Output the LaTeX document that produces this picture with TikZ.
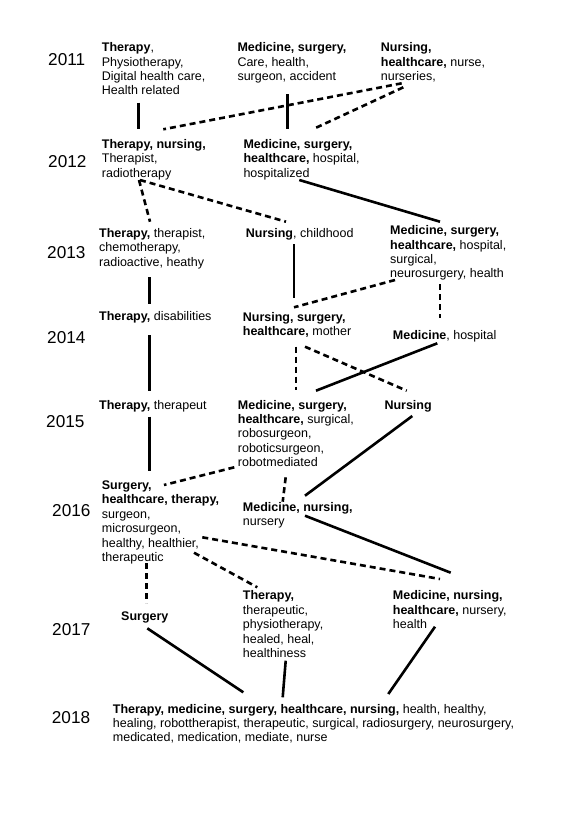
\documentclass[tikz,border=0pt]{standalone}
\usepackage{fontspec}
\setmainfont{Liberation Sans}
\usetikzlibrary{calc}
\begin{document}
\begin{tikzpicture}[x=1pt,y=-1pt,
  term/.style={anchor=north west,inner sep=0pt,align=left,font=\fontsize{12.5}{14.35}\selectfont},
  yr/.style={anchor=north west,inner sep=0pt,font=\fontsize{17.2}{20}\selectfont},
  firm/.style={line width=2.6pt},
  loose/.style={line width=2.6pt,dash pattern=on 6pt off 4pt}]
\useasboundingbox (0,0) rectangle (582,823);

\node[yr] (Y11) at (48,53.3) {2011};
\node[yr] (Y12) at (48,155) {2012};
\node[yr] (Y13) at (47,246) {2013};
\node[yr] (Y14) at (47,331.7) {2014};
\node[yr] (Y15) at (46,415) {2015};
\node[yr] (Y16) at (52,504) {2016};
\node[yr] (Y17) at (52,623.3) {2017};
\node[yr] (Y18) at (51.7,711.7) {2018};

\node[term] (T11) at (101.7,42.5) {\textbf{Therapy}, \\ Physiotherapy, \\ Digital health care, \\ Health related};
\node[term] (M11) at (237.3,42.5) {\textbf{Medicine, surgery,} \\ Care, health, \\ surgeon, accident};
\node[term] (N11) at (380.7,42.5) {\textbf{Nursing,} \\ \textbf{healthcare,} nurse, \\ nurseries,};

\node[term] (T12) at (101.7,139.3) {\textbf{Therapy, nursing,} \\ Therapist, \\ radiotherapy};
\node[term] (M12) at (243.3,139.3) {\textbf{Medicine, surgery,} \\ \textbf{healthcare,} hospital, \\ hospitalized};

\node[term] (T13) at (99,228.3) {\textbf{Therapy,} therapist, \\ chemotherapy, \\ radioactive, heathy};
\node[term] (N13) at (245.7,228.3) {\textbf{Nursing}, childhood};
\node[term] (M13) at (390,225.5) {\textbf{Medicine, surgery,} \\ \textbf{healthcare,} hospital, \\ surgical, \\ neurosurgery, health};

\node[term] (T14) at (99,311.7) {\textbf{Therapy,} disabilities};
\node[term] (N14) at (242.7,312) {\textbf{Nursing, surgery,} \\ \textbf{healthcare,} mother};
\node[term] (M14) at (392.7,330.7) {\textbf{Medicine}, hospital};

\node[term] (T15) at (99,400) {\textbf{Therapy,} therapeut};
\node[term] (M15) at (237.7,400) {\textbf{Medicine, surgery,} \\ \textbf{healthcare,} surgical, \\ robosurgeon, \\ roboticsurgeon, \\ robotmediated};
\node[term] (N15) at (384.3,400) {\textbf{Nursing}};

\node[term] (S16) at (101.7,480.7) {\textbf{Surgery,} \\ \textbf{healthcare, therapy,} \\ surgeon, \\ microsurgeon, \\ healthy, healthier, \\ therapeutic};
\node[term] (M16) at (242.7,502.3) {\textbf{Medicine, nursing,} \\ nursery};

\node[term] (S17) at (121,611.3) {\textbf{Surgery}};
\node[term] (T17) at (242.7,590.7) {\textbf{Therapy,} \\ therapeutic, \\ physiotherapy, \\ healed, heal, \\ healthiness};
\node[term] (M17) at (392.7,590.7) {\textbf{Medicine, nursing,} \\ \textbf{healthcare,} nursery, \\ health};

\node[term] (A18) at (112.7,704) {\textbf{Therapy, medicine, surgery, healthcare, nursing,} health, healthy, \\ healing, robottherapist, therapeutic, surgical, radiosurgery, neurosurgery, \\ medicated, medication, mediate, nurse};

\draw[firm] ($(T11.north west)+(36.6,60.2)$) -- ($(T12.north west)+(36.6,-10)$);
\draw[firm] ($(M11.north west)+(50.4,51.5)$) -- ($(M12.north west)+(44.4,-10.3)$);
\draw[loose] ($(N11.north west)+(21,40.8)$) -- ($(T12.north west)+(61.6,-10)$);
\draw[loose] ($(N11.north west)+(22.6,44.8)$) -- ($(M12.north west)+(70,-10.3)$);

\draw[loose] ($(T12.north west)+(37.3,40.7)$) -- ($(T13.north west)+(51,-6.6)$);
\draw[loose] ($(T12.north west)+(38.3,40.7)$) -- ($(N13.north west)+(40.3,-6.6)$);
\draw[firm] ($(M12.north west)+(56,40.7)$) -- ($(M13.north west)+(50,-3.8)$);

\draw[firm] ($(T13.north west)+(50.3,48.7)$) -- ($(T14.north west)+(50.3,-7.7)$);
\draw[firm] ($(N13.north west)+(48.3,15.7)$) -- ($(N14.north west)+(51.3,-13.7)$);
\draw[loose] ($(M13.north west)+(5,54.5)$) -- ($(N14.north west)+(51.3,-4.7)$);
\draw[loose] ($(M13.north west)+(50,58.8)$) -- ($(M14.north west)+(47.3,-12.4)$);

\draw[firm] ($(T14.north west)+(50.3,23.3)$) -- ($(T15.north west)+(50.3,-9.3)$);
\draw[loose] ($(N14.north west)+(53.3,34.7)$) -- ($(M15.north west)+(58.3,-10)$);
\draw[loose] ($(N14.north west)+(62.3,34.7)$) -- ($(N15.north west)+(22.4,-9.3)$);
\draw[firm] ($(M14.north west)+(44.6,12.6)$) -- ($(M15.north west)+(78.3,-9.3)$);

\draw[firm] ($(T15.north west)+(50.3,16.7)$) -- ($(S16.north west)+(47.6,-10)$);
\draw[loose] ($(M15.north west)+(-3.4,67.3)$) -- ($(S16.north west)+(62.3,4.3)$);
\draw[loose] ($(M15.north west)+(48,77.3)$) -- ($(M16.north west)+(40,-0.6)$);
\draw[firm] ($(N15.north west)+(28,16)$) -- ($(M16.north west)+(62.3,-6.6)$);

\draw[firm] ($(M16.north west)+(62.3,13.4)$) -- ($(M17.north west)+(58,-18)$);
\draw[loose] ($(S16.north west)+(100.6,56.6)$) -- ($(M17.north west)+(47.3,-11.7)$);
\draw[loose] ($(S16.north west)+(92.3,72)$) -- ($(T17.north west)+(14.6,-3.4)$);
\draw[loose] ($(S16.north west)+(45,82.6)$) -- ($(S17.north west)+(25.7,-8)$);

\draw[firm] ($(S17.north west)+(26.3,17)$) -- ($(A18.north west)+(130.6,-11.7)$);
\draw[firm] ($(T17.north west)+(43,70)$) -- ($(A18.north west)+(170,-6.7)$);
\draw[firm] ($(M17.north west)+(42.3,36)$) -- ($(A18.north west)+(275.6,-10)$);
\end{tikzpicture}
\end{document}
